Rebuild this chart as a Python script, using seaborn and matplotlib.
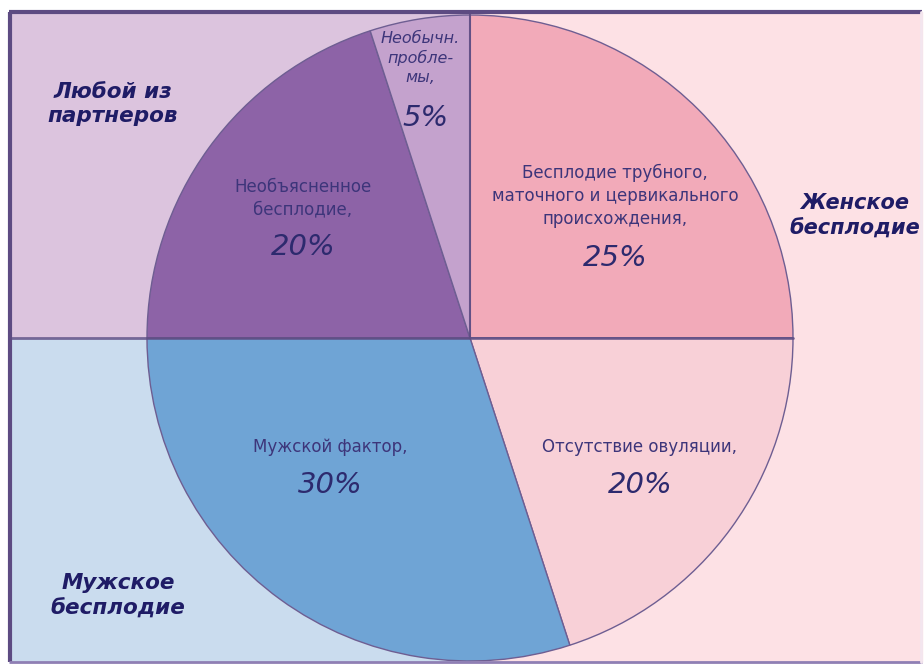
import matplotlib
matplotlib.use("Agg")
import matplotlib.pyplot as plt
from matplotlib.patches import Rectangle
import seaborn as sns

sns.set_style("white")
plt.rcParams['font.family'] = ['DejaVu Sans']

# data
causes = ["Бесплодие трубного,\nматочного и цервикального\nпроисхождения,",
          "Отсутствие овуляции,",
          "Мужской фактор,",
          "Необъясненное\nбесплодие,",
          "Необычн.\nпробле-\nмы,"]
shares = [25, 20, 30, 20, 5]
slice_colors = ["#f2aab9", "#f8d0d7", "#6fa4d5", "#8d63a7", "#c4a2cd"]

groups = ["Любой из\nпартнеров", "Женское\nбесплодие", "Мужское\nбесплодие"]
group_colors = ["#dcc4de", "#fde1e5", "#cadcee"]

W, H = 924, 664
fig = plt.figure(figsize=(W / 100, H / 100), dpi=100)
ax = fig.add_axes([0, 0, 1, 1])

def Y(py):
    return H - py

# background regions
ax.add_patch(Rectangle((10, Y(338)), 460, 338 - 12, color=group_colors[0], zorder=0))
ax.add_patch(Rectangle((470, Y(662)), 452, 650, color=group_colors[1], zorder=0))
ax.add_patch(Rectangle((10, Y(662)), 460, 662 - 338, color=group_colors[2], zorder=0))

# pie
cx, cy, r = 470, Y(338), 323
wedges, _ = ax.pie(shares, colors=slice_colors, startangle=90, counterclock=False,
                   center=(cx, cy), radius=r, frame=True,
                   wedgeprops=dict(edgecolor="#6e5e92", linewidth=1.0))
for w in wedges:
    w.set_zorder(2)
ax.set_xlim(0, W)
ax.set_ylim(0, H)
ax.set_aspect("equal")
ax.axis("off")

# frame and dividers
line_c = "#5d4b82"
ax.plot([10, 10], [Y(12), Y(662)], color=line_c, lw=3, zorder=4, solid_capstyle="butt")
ax.plot([9, 922], [Y(12), Y(12)], color=line_c, lw=3, zorder=4, solid_capstyle="butt")
ax.plot([9, 922], [Y(662), Y(662)], color="#8f7fb4", lw=2, zorder=4, solid_capstyle="butt")
ax.plot([921, 921], [Y(12), Y(662)], color="#f3e6ef", lw=2, zorder=4)
ax.plot([10, 793], [Y(338), Y(338)], color=line_c, lw=2, alpha=0.8, zorder=4)
ax.plot([470, 470], [Y(12), Y(338)], color=line_c, lw=1.5, alpha=0.8, zorder=4)

# slice labels
txt_c = "#2d2a6e"
lab = dict(color="#3d357a", ha="center", va="center", fontsize=12, linespacing=1.35, zorder=5)
pct = dict(color=txt_c, ha="center", va="center", fontsize=21, style="italic", zorder=5)

label_pos = [(615, 196, 258), (640, 447, 485), (330, 447, 485), (303, 198, 247), (420, 58, 118)]
for i, (x, y1, y2) in enumerate(label_pos):
    if i == 4:
        ax.text(x, Y(y1), causes[i], style="italic", **{**lab, "fontsize": 11.5})
    else:
        ax.text(x, Y(y1), causes[i], **lab)
    ax.text(x + (5 if i == 4 else 0), Y(y2), f"{shares[i]}%", **pct)

# group labels
grp = dict(color="#1f1c66", ha="center", va="center", fontsize=15.5, fontweight="bold",
           style="italic", linespacing=1.3, zorder=5)
ax.text(113, Y(104), groups[0], **grp)
ax.text(855, Y(216), groups[1], **{**grp, "fontsize": 15})
ax.text(118, Y(596), groups[2], **grp)

fig.savefig("out.png", dpi=100)
